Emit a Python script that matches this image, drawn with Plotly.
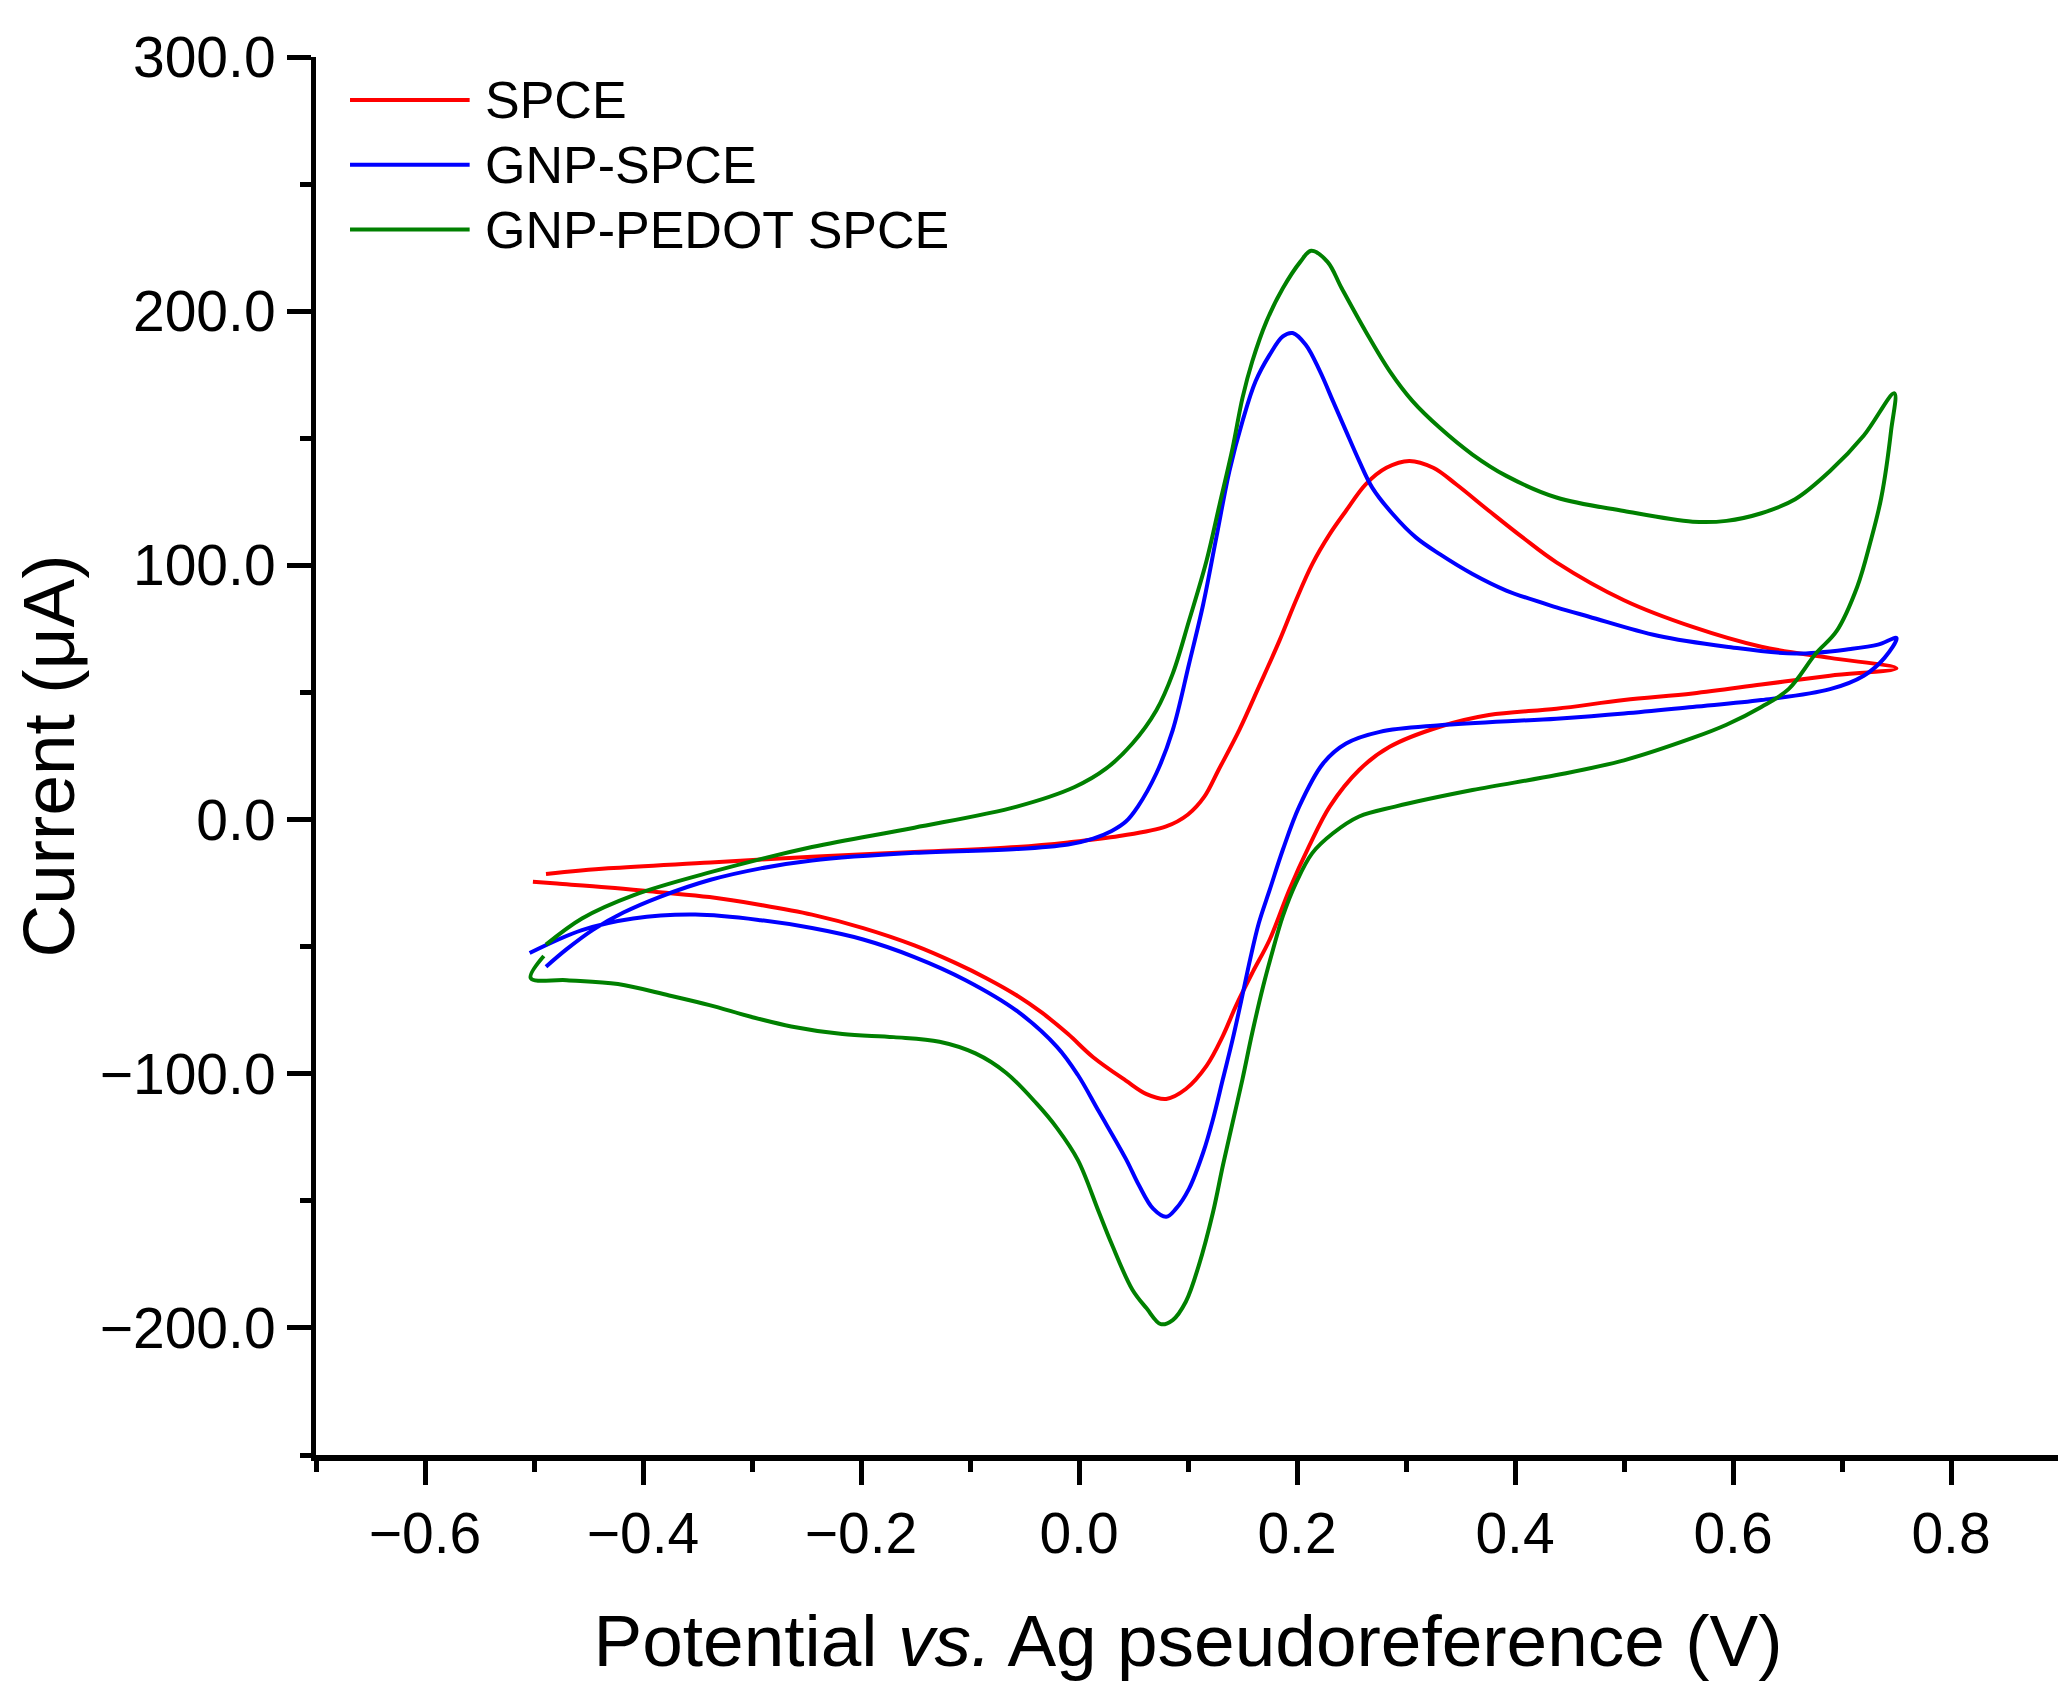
import plotly.graph_objects as go

# cyclic voltammograms (potential V, current uA)
spce_x = [-0.489, -0.432, -0.338, -0.245, -0.151, -0.057, -0.010, 0.037, 0.080, 0.100, 0.115,
          0.128, 0.147, 0.165, 0.184, 0.199, 0.214, 0.230, 0.245, 0.263, 0.282, 0.303,
          0.325, 0.346, 0.376, 0.407, 0.438, 0.500, 0.563, 0.626, 0.689, 0.750,
          0.689, 0.626, 0.563, 0.500, 0.438, 0.376, 0.331, 0.285, 0.257, 0.230, 0.211,
          0.193, 0.175, 0.159, 0.144, 0.132, 0.117, 0.098, 0.080, 0.062, 0.043, 0.013,
          -0.010, -0.034, -0.057, -0.085, -0.114, -0.151, -0.198, -0.245, -0.292,
          -0.339, -0.385, -0.432, -0.479, -0.501]
spce_y = [-21.4, -19.2, -16.9, -14.6, -12.8, -10.8, -9.0, -6.5, -2.7, 2.0, 9.0,
          19.5, 35.2, 52.2, 70.5, 86.2, 100.5, 112.3, 121.5, 131.9, 138.4, 141.1,
          138.4, 131.9, 121.5, 111.0, 101.2, 86.3, 75.8, 68.0, 63.6, 59.5,
          56.6, 53.1, 49.6, 47.0, 43.6, 41.1, 36.5, 28.6, 19.5, 5.1, -10.6,
          -27.6, -47.2, -60.3, -73.3, -85.1, -96.9, -106.0, -109.9, -108.0, -102.7, -93.5,
          -84.4, -76.0, -69.2, -62.4, -56.3, -49.5, -42.7, -37.4, -33.6,
          -30.5, -28.6, -26.7, -25.2, -24.5]

gnp_x = [-0.489, -0.470, -0.446, -0.418, -0.385, -0.338, -0.292, -0.245, -0.151, -0.057,
         -0.010, 0.013, 0.030, 0.043, 0.054, 0.071, 0.086, 0.101, 0.114, 0.126, 0.138, 0.150,
         0.162, 0.175, 0.187, 0.196, 0.208, 0.221, 0.233, 0.245, 0.257, 0.269, 0.288,
         0.309, 0.331, 0.361, 0.392, 0.438, 0.468, 0.531, 0.594, 0.657, 0.708, 0.733, 0.750,
         0.739, 0.720, 0.689, 0.626, 0.563, 0.500, 0.438, 0.331, 0.276, 0.245, 0.224,
         0.202, 0.187, 0.175, 0.165, 0.157, 0.150, 0.141, 0.132, 0.123, 0.114, 0.101,
         0.089, 0.080, 0.068, 0.055, 0.043, 0.018, -0.001, -0.020, -0.057, -0.104,
         -0.151, -0.198, -0.245, -0.292, -0.352, -0.409, -0.456, -0.504]
gnp_y = [-57.9, -51.0, -43.4, -36.6, -30.5, -23.7, -19.2, -16.1, -13.1, -11.6,
         -9.8, -7.5, -4.5, -0.8, 5.1, 18.2, 35.2, 61.3, 84.8, 111.0, 137.1, 156.7,
         172.4, 182.9, 190.1, 191.4, 186.8, 176.4, 164.6, 152.8, 141.1, 130.6, 120.1,
         111.0, 104.4, 96.6, 90.1, 83.5, 79.8, 72.3, 68.0, 65.3, 67.1, 68.8, 71.4,
         63.6, 56.6, 51.3, 47.0, 44.3, 41.7, 39.7, 37.1, 34.5, 29.9, 22.1,
         5.1, -11.9, -27.6, -40.7, -55.0, -69.0, -86.4, -102.1, -117.8, -130.9, -145.2,
         -153.1, -156.3, -153.1, -143.9, -133.5, -114.7, -100.5, -89.5, -75.3, -63.2,
         -54.1, -47.2, -42.7, -39.6, -37.4, -38.9, -43.5, -52.5]

pedot_x = [-0.489, -0.456, -0.409, -0.338, -0.245, -0.151, -0.057, -0.004, 0.025, 0.049,
           0.071, 0.086, 0.101, 0.117, 0.129, 0.141, 0.150, 0.159, 0.172, 0.187, 0.203,
           0.213, 0.228, 0.241, 0.263, 0.285, 0.306, 0.331, 0.361, 0.392, 0.438, 0.500,
           0.563, 0.594, 0.626, 0.657, 0.689, 0.720, 0.748,
           0.745, 0.736, 0.726, 0.714, 0.695, 0.676, 0.651, 0.626, 0.594, 0.563, 0.500,
           0.438, 0.361, 0.290, 0.257, 0.233, 0.214, 0.199, 0.187, 0.178, 0.169, 0.159,
           0.150, 0.141, 0.132, 0.123, 0.110, 0.098, 0.086, 0.075, 0.062, 0.049, 0.030,
           0.018, -0.001, -0.020, -0.039, -0.067, -0.095, -0.128, -0.170, -0.217, -0.264,
           -0.301, -0.339, -0.376, -0.423, -0.470, -0.503, -0.491]
pedot_y = [-49.2, -38.9, -29.8, -20.7, -10.8, -3.2, 5.1, 12.8, 20.1, 29.9,
           43.0, 57.4, 78.3, 101.8, 124.0, 146.3, 165.9, 180.3, 196.0, 209.0, 219.4,
           223.8, 219.4, 209.0, 192.0, 176.4, 164.6, 154.1, 143.6, 135.2, 126.7, 121.4,
           117.2, 117.5, 120.5, 126.0, 137.1, 151.1, 167.7,
           152.9, 126.6, 109.1, 91.6, 74.1, 65.3, 51.3, 44.3, 37.3, 32.1, 23.3,
           17.5, 11.6, 5.1, 1.2, -5.4, -13.2, -25.0, -38.0, -51.1, -65.5, -83.8,
           -102.1, -119.1, -136.1, -154.4, -175.3, -189.7, -196.9, -198.5, -192.3, -185.0, -167.0,
           -154.2, -134.0, -121.5, -111.7, -99.6, -92.0, -87.4, -85.6, -84.4, -81.4,
           -77.6, -73.0, -69.2, -64.7, -63.2, -62.4, -53.7]

names = ['SPCE', 'GNP-SPCE', 'GNP-PEDOT SPCE']
colors = ['#FF0000', '#0000FF', '#008000']

fig = go.Figure()
for name, xs, ys, col in zip(names, [spce_x, gnp_x, pedot_x], [spce_y, gnp_y, pedot_y], colors):
    fig.add_trace(go.Scatter(x=xs, y=ys, mode='lines', name=name,
                             line=dict(color=col, width=4, shape='spline', smoothing=1.0)))

font = 'Liberation Sans, Arial, sans-serif'

# legend drawn by hand so the sample lines can be long like the original
leg_y = [0.9693, 0.923, 0.8766]
for name, col, yy in zip(names, colors, leg_y):
    fig.add_shape(type='line', xref='paper', yref='paper', x0=0.0195, x1=0.0881, y0=yy, y1=yy,
                  line=dict(color=col, width=4))
    fig.add_annotation(xref='paper', yref='paper', x=0.0955, y=yy, text=name, showarrow=False,
                       xanchor='left', yanchor='middle', font=dict(family=font, size=52, color='black'))

fig.update_layout(
    width=2066, height=1684,
    margin=dict(l=308, r=14, t=49, b=237),
    paper_bgcolor='white', plot_bgcolor='white',
    showlegend=False,
    font=dict(family=font, color='black'),
)
fig.update_xaxes(
    range=[-0.7, 0.9], tick0=0, dtick=0.2, tickformat='.1f',
    showline=True, linecolor='black', linewidth=6, mirror=False,
    ticks='outside', ticklen=24, tickwidth=5, tickcolor='black',
    minor=dict(ticks='outside', dtick=0.1, tick0=0, ticklen=11, tickwidth=5, tickcolor='black'),
    showgrid=False, zeroline=False,
    tickfont=dict(family=font, size=57, color='black'),
    title=dict(text='Potential <i>vs.</i> Ag pseudoreference (V)', standoff=52,
               font=dict(family=font, size=73, color='black')),
)
# trailing no-break spaces push the rotated title a little below centre, as in the original
fig.update_yaxes(
    range=[-250, 300], tick0=0, dtick=100, tickformat='.1f',
    showline=True, linecolor='black', linewidth=5, mirror=False,
    ticks='outside', ticklen=24, tickwidth=5, tickcolor='black',
    minor=dict(ticks='outside', dtick=50, tick0=0, ticklen=11, tickwidth=5, tickcolor='black'),
    showgrid=False, zeroline=False,
    tickfont=dict(family=font, size=57, color='black'),
    title=dict(text='Current (μA)\u00a0\u00a0\u00a0', standoff=5,
               font=dict(family=font, size=73, color='black')),
)

fig.write_html('out.html')
